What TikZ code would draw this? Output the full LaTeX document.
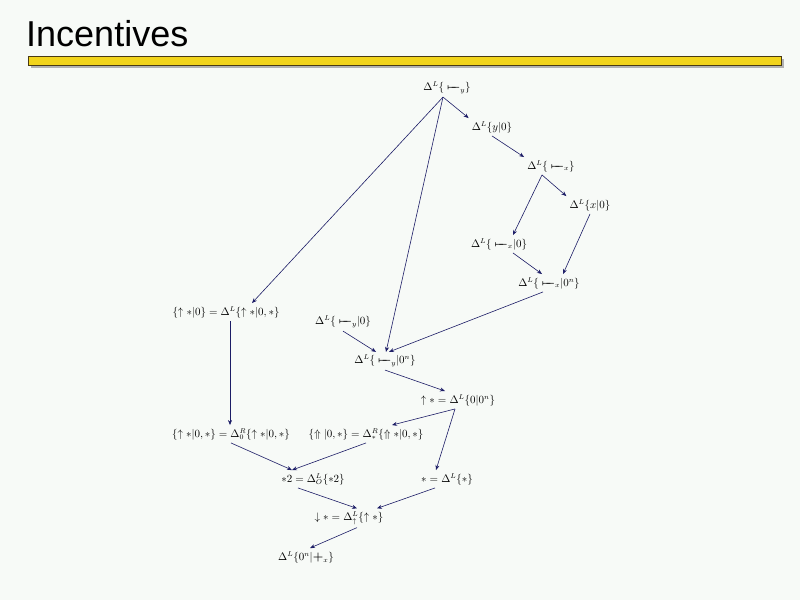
\documentclass[tikz,border=0pt]{standalone}
\usepackage{fontspec}
\usepackage{amsmath}
\usepackage{tikz}
\usetikzlibrary{arrows.meta,positioning,calc}
\newfontfamily\titlefont{Liberation Sans}
\definecolor{slidebg}{HTML}{F7FAF7}
\definecolor{barfill}{HTML}{F2D41C}
\definecolor{barline}{HTML}{4A3A12}
\definecolor{ink}{HTML}{1C1C66}
\newcommand{\tackbar}{\mathord{\boldsymbol{\mapstochar\relbar\mkern-9mu\relbar}}}
\newcommand{\boldplus}{\mathord{\text{\large\bfseries +}}}

\begin{document}
\begin{tikzpicture}[x=1pt, y=-1pt,
    lbl/.style={inner sep=3pt, text=black, font=\fontsize{10.5}{12}\selectfont},
    link/.style={draw=ink, line width=0.6pt, -{Stealth[length=5pt,width=4pt]}}
]
    % Slide background
    \fill[slidebg] (0,0) rectangle (800,600);
    \useasboundingbox (0,0) rectangle (800,600);

    % Title and bar
    \node[anchor=base west, inner sep=0pt] (title) at (26,46) {\titlefont\fontsize{36}{40}\selectfont Incentives};
    \fill[black!30] (31,59) rectangle (784,68);
    \draw[barline, fill=barfill, line width=0.8pt] (28,56) rectangle (781,65);

    % Upper chain
    \node[lbl] (dy) at (447,88) {$\Delta^L\{\;\tackbar_y\}$};
    \node[lbl] (dy0) at (492,127) {$\Delta^L\{y|0\}$};
    \node[lbl] (dx) at (551,166) {$\Delta^L\{\;\tackbar_x\}$};
    \node[lbl] (dx0) at (590,205) {$\Delta^L\{x|0\}$};
    \node[lbl] (dtx0) at (499,244) {$\Delta^L\{\;\tackbar_x|0\}$};
    \node[lbl] (dtx0n) at (549,283) {$\Delta^L\{\;\tackbar_x|0^n\}$};

    % Middle
    \node[lbl] (up0) at (226,312) {$\{\uparrow *|0\} = \Delta^L\{\uparrow *|0,*\}$};
    \node[lbl] (dty0) at (343,322) {$\Delta^L\{\;\tackbar_y|0\}$};
    \node[lbl] (dty0n) at (385,361) {$\Delta^L\{\;\tackbar_y|0^n\}$};
    \node[lbl] (upst) at (458,400) {$\uparrow * = \Delta^L\{0|0^n\}$};

    % Lower part
    \node[lbl] (upR0) at (231,434) {$\{\uparrow *|0,*\} = \Delta^R_0\{\uparrow *|0,*\}$};
    \node[lbl] (UpR) at (366,434) {$\{\Uparrow|0,*\} = \Delta^R_*\{\Uparrow *|0,*\}$};
    \node[lbl] (st2) at (313,479) {$*2 = \Delta^L_O\{*2\}$};
    \node[lbl] (st) at (447,479) {$* = \Delta^L\{*\}$};
    \node[lbl] (down) at (349,518) {$\downarrow * = \Delta^L_\uparrow\{\uparrow *\}$};
    \node[lbl] (plus) at (306,557) {$\Delta^L\{0^n|\boldplus_x\}$};

    % Connections
    \draw[link] ([xshift=-4pt]dy.south) -- (dy0.north west);
    \draw[link] (dy0.south) -- (dx.north west);
    \draw[link] ([xshift=-9pt]dx.south) -- (dx0.north west);
    \draw[link] ([xshift=-9pt]dx.south) -- ([xshift=14pt]dtx0.north);
    \draw[link] (dx0.south) -- ([xshift=14pt]dtx0n.north);
    \draw[link] ([xshift=14pt]dtx0.south) -- ([xshift=-7pt]dtx0n.north);
    \draw[link] ([xshift=-4pt]dy.south) -- ([xshift=26pt]up0.north);
    \draw[link] ([xshift=-4pt]dy.south) -- ([xshift=1pt]dty0n.north);
    \draw[link] ([xshift=-6pt]dtx0n.south) -- ([xshift=4pt]dty0n.north);
    \draw[link] (dty0.south) -- ([xshift=-9pt]dty0n.north);
    \draw[link] (dty0n.south) -- ([xshift=-13pt]upst.north);
    \draw[link] ([xshift=4pt]up0.south) -- ([xshift=-1pt]upR0.north);
    \draw[link] ([xshift=-3pt]upst.south) -- ([xshift=26pt]UpR.north);
    \draw[link] ([xshift=-3pt]upst.south) -- ([xshift=-11pt]st.north);
    \draw[link] (upR0.south) -- ([xshift=-21pt]st2.north);
    \draw[link] (UpR.south) -- ([xshift=-21pt]st2.north);
    \draw[link] ([xshift=-15pt]st2.south) -- ([xshift=8pt]down.north);
    \draw[link] ([xshift=-12pt]st.south) -- ([xshift=28pt]down.north);
    \draw[link] ([xshift=8pt]down.south) -- ([xshift=4pt]plus.north);
\end{tikzpicture}
\end{document}
